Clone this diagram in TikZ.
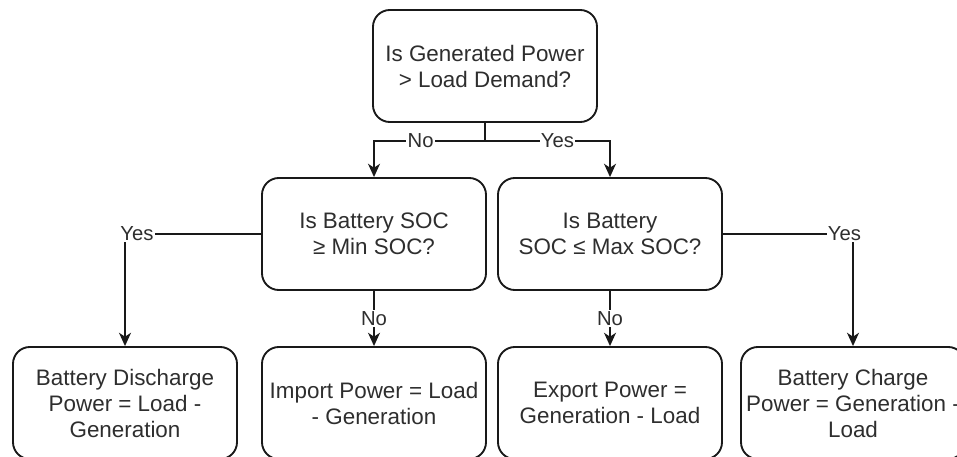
\documentclass[tikz,border=0pt]{standalone}
\usepackage{fontspec}
\setmainfont{Liberation Sans}
\usepackage{xcolor}
\definecolor{boxline}{gray}{0.10}
\definecolor{boxtext}{gray}{0.18}
\usepackage{tikz}
\usetikzlibrary{arrows.meta,positioning}
\tikzset{
  flowbox/.style={draw=boxline, fill=white, rounded corners=12.6pt, line width=1.4pt,
                  minimum width=168pt, minimum height=84pt, text=boxtext,
                  font=\fontsize{16.8}{19.5}\selectfont, align=center, inner sep=2pt},
  flowarr/.style={-{Stealth[length=10pt, width=9pt, inset=3pt]}, line width=1.4pt, boxline},
  flowline/.style={line width=1.4pt, boxline},
  edgelbl/.style={fill=white, text=boxtext, inner sep=1pt,
                  font=\fontsize{15.2}{18}\selectfont}
}

\begin{document}
\begin{tikzpicture}[x=0.75pt, y=-0.75pt]
    \useasboundingbox (0,0) rectangle (957,457);

    \node[flowbox] (gen) at (485,66) {Is Generated Power\\> Load Demand?};
    \node[flowbox] (socmin) at (374,234) {Is Battery SOC\\≥ Min SOC?};
    \node[flowbox] (socmax) at (610,234) {Is Battery\\SOC ≤ Max SOC?};

    \node[flowbox] (dis) at (125,403) {Battery Discharge\\Power = Load -\\Generation};
    \node[flowbox] (imp) at (374,403) {Import Power = Load\\- Generation};
    \node[flowbox] (exp) at (610,403) {Export Power =\\Generation - Load};
    \node[flowbox] (chg) at (853,403) {Battery Charge\\Power = Generation -\\Load};

    \coordinate (split) at (485,141);
    \draw[flowline] (gen.south) -- (split);
    \draw[flowarr] (split) -| node[edgelbl, pos=0.29] {No} (socmin.north);
    \draw[flowarr] (split) -| node[edgelbl, pos=0.29] {Yes} (socmax.north);

    \draw[flowarr] (socmin.west) -| node[edgelbl, pos=0.456] {Yes} (dis.north);
    \draw[flowarr] (socmin.south) -- node[edgelbl] {No} (imp.north);
    \draw[flowarr] (socmax.south) -- node[edgelbl] {No} (exp.north);
    \draw[flowarr] (socmax.east) -| node[edgelbl, pos=0.467] {Yes} (chg.north);
\end{tikzpicture}
\end{document}
